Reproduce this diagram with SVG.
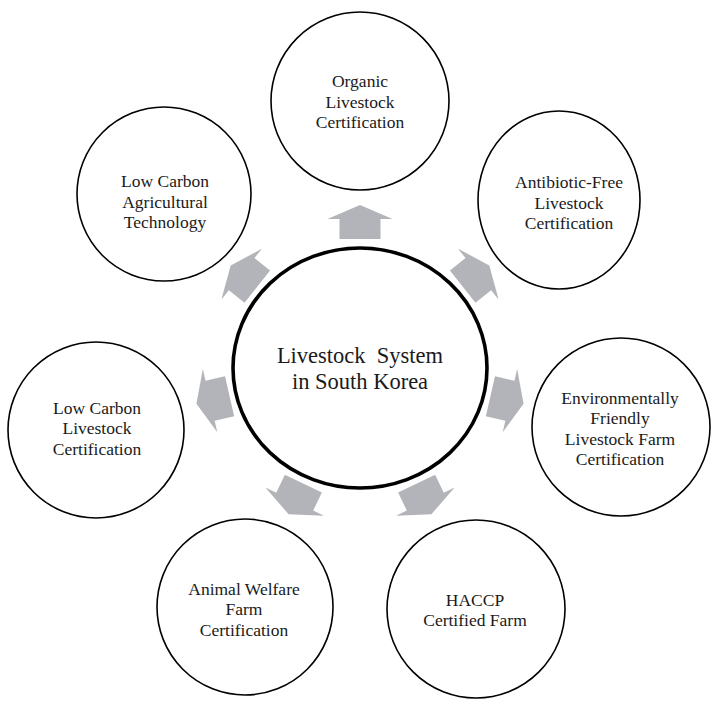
<svg xmlns="http://www.w3.org/2000/svg" width="720" height="708" viewBox="0 0 720 708">
<defs>
<style>
.node{fill:#fff;stroke:#000;stroke-width:1.6}
.hub{fill:#fff;stroke:#000;stroke-width:3.6}
text{font-family:'Liberation Serif','DejaVu Serif','Noto Serif',serif;fill:#1a1a1a;text-anchor:middle}
.t{font-size:17.5px}
.th{font-size:22.5px}
.arr{fill:#b2b4b9}
</style>
<path id="arrow" d="M0,-17 L32.5,-3 L20.5,-3 L20.5,17 L-20.5,17 L-20.5,-3 L-32.5,-3 Z"/>
</defs>
<rect width="720" height="708" fill="#fff"/>
<g id="connectors" class="arr">
<use href="#arrow" transform="translate(360,222)"/>
<use href="#arrow" transform="translate(476,276) rotate(51.43)"/>
<use href="#arrow" transform="translate(507,400) rotate(102.86)"/>
<use href="#arrow" transform="translate(424,499) rotate(154.29)"/>
<use href="#arrow" transform="translate(296,499) rotate(205.71)"/>
<use href="#arrow" transform="translate(213,400) rotate(257.14)"/>
<use href="#arrow" transform="translate(244,276) rotate(308.57)"/>
</g>
<g font-family="Liberation Serif, serif">
<g id="hub">
<ellipse class="hub" cx="360" cy="368" rx="127" ry="120"/>
<text class="th" x="360" y="363" xml:space="preserve">Livestock  System</text>
<text class="th" x="360" y="389">in South Korea</text>
</g>
<g id="organic">
<circle class="node" cx="360" cy="101" r="89"/>
<text class="t" x="360" y="87">Organic</text>
<text class="t" x="360" y="107.5">Livestock</text>
<text class="t" x="360" y="128">Certification</text>
</g>
<g id="antibiotic">
<ellipse class="node" cx="559" cy="200" rx="81" ry="89"/>
<text class="t" x="569" y="188">Antibiotic-Free</text>
<text class="t" x="569" y="208.5">Livestock</text>
<text class="t" x="569" y="229">Certification</text>
</g>
<g id="environment">
<circle class="node" cx="621" cy="427" r="89"/>
<text class="t" x="620" y="403.5">Environmentally</text>
<text class="t" x="620" y="424">Friendly</text>
<text class="t" x="620" y="444.5">Livestock Farm</text>
<text class="t" x="620" y="465">Certification</text>
</g>
<g id="haccp">
<circle class="node" cx="476" cy="609" r="89"/>
<text class="t" x="475" y="605.5">HACCP</text>
<text class="t" x="475" y="626">Certified Farm</text>
</g>
<g id="animal-welfare">
<circle class="node" cx="245" cy="607" r="88"/>
<text class="t" x="244" y="594.5">Animal Welfare</text>
<text class="t" x="244" y="615">Farm</text>
<text class="t" x="244" y="635.5">Certification</text>
</g>
<g id="low-carbon-livestock">
<circle class="node" cx="96" cy="430" r="88"/>
<text class="t" x="97" y="413.5">Low Carbon</text>
<text class="t" x="97" y="434">Livestock</text>
<text class="t" x="97" y="454.5">Certification</text>
</g>
<g id="low-carbon-agri">
<circle class="node" cx="164" cy="194" r="87"/>
<text class="t" x="165" y="187">Low Carbon</text>
<text class="t" x="165" y="207.5">Agricultural</text>
<text class="t" x="165" y="228">Technology</text>
</g>
</g>
</svg>
